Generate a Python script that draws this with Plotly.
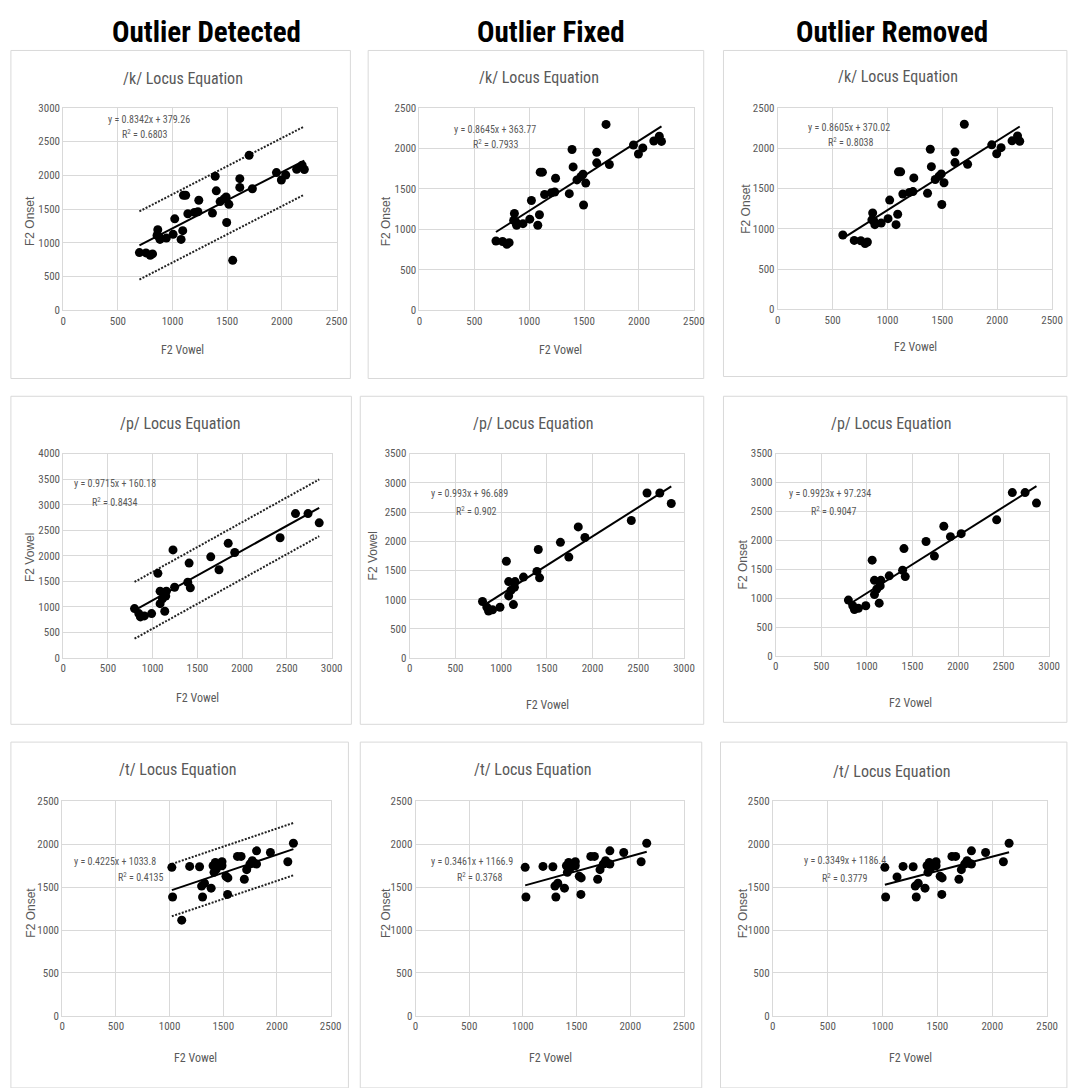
import plotly.graph_objects as go

# ---------------- DATA ----------------
# /k/ : points shared by all three versions (F2 vowel, F2 onset in Hz)
k_vowel = [697, 757, 796, 817, 865, 858, 885, 878, 943, 1005, 1020, 1078, 1100, 1093, 1120, 1140, 1200, 1232, 1240,
           1365, 1390, 1400, 1435, 1470, 1490, 1495, 1515, 1615, 1615, 1700, 1730, 1950, 1995, 2035, 2135, 2185, 2205]
k_onset = [855, 850, 815, 835, 1195, 1110, 1050, 1090, 1070, 1125, 1355, 1050, 1705, 1180, 1705, 1430, 1450, 1460, 1630,
           1440, 1985, 1770, 1610, 1650, 1680, 1300, 1570, 1820, 1950, 2295, 1800, 2040, 1930, 2005, 2090, 2150, 2085]
k_outlier = (1550, 740)
k_corrected = (593, 922)

# /p/
p_vowel = [797, 845, 863, 907, 988, 1058, 1083, 1083, 1109, 1135, 1153, 1146, 1245, 1407, 1392, 1421,
           1649, 1741, 1844, 1917, 2424, 2596, 2736, 2861]
p_onset = [968, 871, 806, 826, 871, 1658, 1310, 1065, 1161, 916, 1310, 1213, 1387, 1858, 1484, 1374,
           1981, 1729, 2245, 2065, 2355, 2826, 2826, 2645]
p_outlier = (1227, 2116)
p_corrected = (2035, 2117)

# /t/
t_vowel = [1021, 1028, 1187, 1279, 1298, 1307, 1325, 1387, 1405, 1414, 1426, 1436, 1488, 1488, 1525, 1543, 1540,
           1632, 1666, 1696, 1718, 1748, 1770, 1794, 1810, 1810, 1939, 2101, 2153]
t_onset = [1731, 1385, 1742, 1738, 1512, 1385, 1546, 1488, 1750, 1673, 1788, 1712, 1796, 1750, 1627, 1608, 1415,
           1858, 1858, 1592, 1704, 1769, 1808, 1777, 1923, 1769, 1904, 1796, 2012]
t_outlier = (1113, 1115)
t_corrected = (1132, 1619)

# regression equations shown on each chart: (slope, intercept, R^2)
k_fits = [(0.8342, 379.26, 0.6803), (0.8645, 363.77, 0.7933), (0.8605, 370.02, 0.8038)]
p_fits = [(0.9715, 160.18, 0.8434), (0.993, 96.689, 0.902), (0.9923, 97.234, 0.9047)]
t_fits = [(0.4225, 1033.8, 0.4135), (0.3461, 1166.9, 0.3768), (0.3349, 1186.4, 0.3779)]

# half-width of the dotted bands on the "Outlier Detected" charts
band_halfwidth = {"k": 505, "p": 555, "t": 305}

column_titles = ["Outlier Detected", "Outlier Fixed", "Outlier Removed"]
chart_titles = {"k": "/k/ Locus Equation", "p": "/p/ Locus Equation", "t": "/t/ Locus Equation"}
x_title = "F2 Vowel"
y_titles = {"k": ["F2 Onset", "F2 Onset", "F2 Onset"],
            "p": ["F2 Vowel", "F2 Vowel", "F2 Onset"],
            "t": ["F2 Onset", "F2 Onset", "F2 Onset"]}

# ---------------- LAYOUT GEOMETRY (pixels) ----------------
W, H = 1071, 1088
def fx(x): return x / W
def fy(y): return 1 - y / H

NARROW = "Liberation Sans Narrow, Arial Narrow, Roboto Condensed, sans-serif"
WIDE = "Liberation Sans, Arial, sans-serif"
GRAY = "#595959"
GRID = "#d9d9d9"

panels = [
    # row k
    dict(key="k", col=0, area=(61, 338, 103, 308), xr=2500, yr=3000, box=(8, 352, 45, 377),
         title=(182, 73), eq=(148, 115), r2=(144, 130), xt=(182, 348), yt=(28, 218)),
    dict(key="k", col=1, area=(422, 700, 103, 308), xr=2500, yr=2500, box=(370, 710, 45, 377),
         title=(543, 72), eq=(499, 125), r2=(500, 140), xt=(565, 348), yt=(388, 218)),
    dict(key="k", col=2, area=(785, 1063, 103, 307), xr=2500, yr=2500, box=(730, 1078, 45, 375),
         title=(907, 71), eq=(857, 123), r2=(859, 138), xt=(925, 345), yt=(752, 205)),
    # row p
    dict(key="p", col=0, area=(61, 333, 453, 660), xr=3000, yr=4000, box=(8, 353, 395, 727),
         title=(180, 423), eq=(113, 483), r2=(113, 502), xt=(197, 700), yt=(28, 558)),
    dict(key="p", col=1, area=(412, 690, 453, 660), xr=3000, yr=3500, box=(362, 710, 395, 727),
         title=(538, 423), eq=(473, 493), r2=(480, 511), xt=(552, 707), yt=(375, 557)),
    dict(key="p", col=2, area=(783, 1060, 453, 658), xr=3000, yr=3500, box=(730, 1078, 395, 725),
         title=(900, 423), eq=(838, 493), r2=(842, 511), xt=(920, 705), yt=(750, 565)),
    # row t
    dict(key="t", col=0, area=(60, 332, 805, 1022), xr=2500, yr=2500, box=(8, 350, 745, 1095),
         title=(177, 773), eq=(113, 866), r2=(140, 882), xt=(195, 1065), yt=(28, 918)),
    dict(key="t", col=1, area=(418, 690, 805, 1022), xr=2500, yr=2500, box=(362, 708, 745, 1095),
         title=(537, 773), eq=(475, 866), r2=(483, 882), xt=(555, 1065), yt=(388, 918)),
    dict(key="t", col=2, area=(780, 1058, 805, 1022), xr=2500, yr=2500, box=(727, 1078, 745, 1095),
         title=(900, 775), eq=(853, 865), r2=(853, 883), xt=(920, 1065), yt=(750, 918)),
]

base = {"k": (k_vowel, k_onset), "p": (p_vowel, p_onset), "t": (t_vowel, t_onset)}
outliers = {"k": k_outlier, "p": p_outlier, "t": t_outlier}
corrected = {"k": k_corrected, "p": p_corrected, "t": t_corrected}
fits = {"k": k_fits, "p": p_fits, "t": t_fits}

def panel_data(key, col):
    xs, ys = list(base[key][0]), list(base[key][1])
    if col == 0:
        xs.append(outliers[key][0]); ys.append(outliers[key][1])
    elif col == 2:
        xs.append(corrected[key][0]); ys.append(corrected[key][1])
    return xs, ys

fig = go.Figure()
layout = dict(width=W, height=H, margin=dict(l=0, r=0, t=0, b=0), showlegend=False,
              paper_bgcolor="white", plot_bgcolor="white", shapes=[], annotations=[])

def ann(text, pos, size, color=GRAY, family=NARROW, angle=0):
    layout["annotations"].append(dict(text=text, x=fx(pos[0]), y=fy(pos[1]), xref="paper", yref="paper",
                                      showarrow=False, xanchor="center", yanchor="middle", textangle=angle,
                                      font=dict(family=family, size=size, color=color)))

for i, p in enumerate(panels):
    n = "" if i == 0 else str(i + 1)
    xa, ya = "x" + n, "y" + n
    l, r, t, b = p["area"]
    axis_common = dict(showgrid=True, gridcolor=GRID, gridwidth=1, zeroline=False,
                       showline=True, linecolor=GRID, mirror=True, ticks="",
                       tickfont=dict(family=NARROW, size=11, color=GRAY), dtick=500, fixedrange=True)
    layout["xaxis" + n] = dict(domain=[fx(l), fx(r)], range=[0, p["xr"]], anchor=ya, **axis_common)
    layout["yaxis" + n] = dict(domain=[fy(b), fy(t)], range=[0, p["yr"]], anchor=xa, **axis_common)

    key, col = p["key"], p["col"]
    xs, ys = panel_data(key, col)
    slope, icpt, r2 = fits[key][col]
    x0, x1 = min(xs), max(xs)
    line_x = [x0, x1]
    line_y = [slope * x0 + icpt, slope * x1 + icpt]

    if col == 0:
        hw = band_halfwidth[key]
        for sgn in (1, -1):
            fig.add_trace(go.Scatter(x=line_x, y=[v + sgn * hw for v in line_y], mode="lines",
                                     line=dict(color="#222222", width=2, dash="2px,1.5px"),
                                     xaxis=xa, yaxis=ya, hoverinfo="skip"))
    fig.add_trace(go.Scatter(x=xs, y=ys, mode="markers",
                             marker=dict(color="black", size=9, line=dict(width=0)),
                             xaxis=xa, yaxis=ya))
    fig.add_trace(go.Scatter(x=line_x, y=line_y, mode="lines",
                             line=dict(color="black", width=2), xaxis=xa, yaxis=ya, hoverinfo="skip"))

    bl, br, bt, bb = p["box"]
    layout["shapes"].append(dict(type="rect", xref="paper", yref="paper",
                                 x0=fx(bl), x1=fx(br), y0=fy(bb), y1=fy(bt),
                                 line=dict(color=GRID, width=1), fillcolor="rgba(0,0,0,0)", layer="below"))
    ann(chart_titles[key], p["title"], 16)
    ann("y = %sx + %s" % (slope, icpt), p["eq"], 10)
    ann("R<sup>2</sup> = %s" % r2, p["r2"], 10)
    ann(x_title, p["xt"], 12)
    ann(y_titles[key][col], p["yt"], 12, family=WIDE, angle=-90)

for title, cx in zip(column_titles, [206, 555, 901]):
    layout["annotations"].append(dict(text="<b>%s</b>" % title, x=fx(cx), y=fy(26), xref="paper", yref="paper",
                                      showarrow=False, xanchor="center", yanchor="middle",
                                      font=dict(family=NARROW, size=29, color="black")))

fig.update_layout(**layout)
fig.write_html("out.html")
